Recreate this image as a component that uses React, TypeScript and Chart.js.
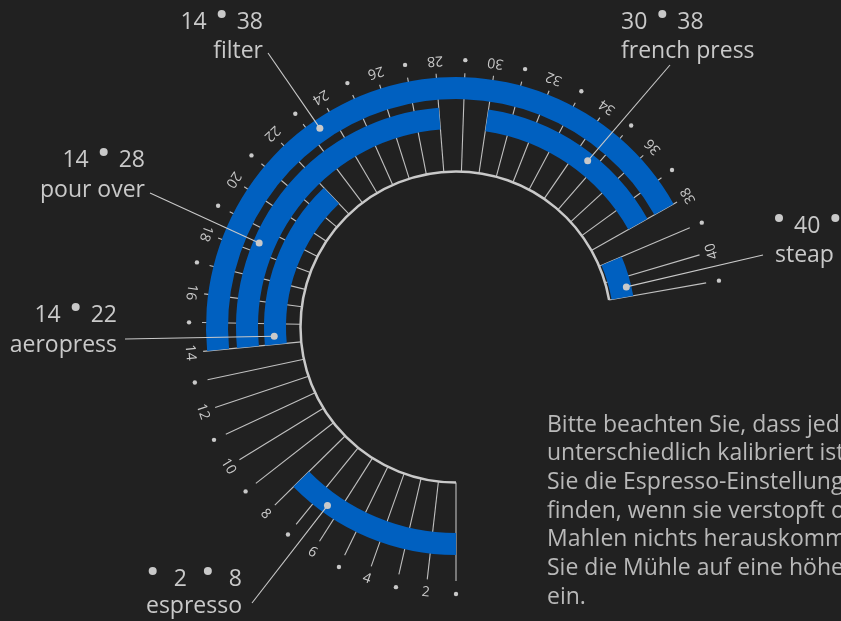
import React, { useEffect, useRef } from 'react';
import { Chart, registerables } from 'chart.js';

Chart.register(...registerables);

// ---------- data ----------
const methods = ['filter', 'pour over', 'french press', 'espresso', 'aeropress', 'steap'];
const rangeStart = [14, 14, 30, 1, 14, 39];
const rangeEnd = [38, 28, 38, 8, 22, 41];
const rangeLabels = ['14 • 38', '14 • 28', '30 • 38', '• 2 • 8', '14 • 22', '• 40 •'];
const tickLines = [1, 2, 3, 4, 5, 6, 7, 8, 9, 10, 11, 12, 13, 14, 15, 16, 17, 18, 19, 20, 21, 22, 23, 24, 25, 26, 27, 28, 29, 30, 31, 32, 33, 34, 35, 36, 37, 38, 39, 40, 41];
const tickLabels = [2, 4, 6, 8, 10, 12, 14, 16, 18, 20, 22, 24, 26, 28, 30, 32, 34, 36, 38, 40];
const tickDots = [1, 3, 5, 7, 9, 11, 13, 15, 17, 19, 21, 23, 25, 27, 29, 31, 33, 35, 37, 39, 41];
const noteLines = [
  'Bitte beachten Sie, dass jede Mühle',
  'unterschiedlich kalibriert ist. Um',
  'Sie die Espresso-Einstellung zu',
  'finden, wenn sie verstopft oder beim',
  'Mahlen nichts herauskommt, stellen',
  'Sie die Mühle auf eine höhere Stufe',
  'ein.',
];

// ---------- layout / style ----------
const W = 841;
const H = 621;
const BG = '#212121';
const BLUE = '#0060c0';
const LIGHT = '#c9c9c9';
const FONT = '"Open Sans", "Noto Sans", sans-serif';
const DEG_PER_UNIT = 6.5;
const AXIS_ORIGIN = 1; // value at the bottom of the dial
const ORIGIN_ANGLE = -180;
const FULL_TURN = 360 / DEG_PER_UNIT;
const INNER_R = 155.5;
const TICK_OUTER_R = 254;
const LABEL_R = 267;
const ringInner = [228, 198, 198, 206, 170, 158];
const ringOuter = [250, 220, 220, 228, 192, 180];

type Ann = { x: number; align: 'left' | 'right'; numY: number; nameY: number; from: [number, number]; at: number; r: number; gap: number };
const annotations: Ann[] = [
  { x: 263, align: 'right', numY: 29, nameY: 58, from: [268, 53], at: 23.4, r: 241, gap: 11 },
  { x: 145, align: 'right', numY: 167, nameY: 197, from: [150, 193], at: 18.4, r: 214, gap: 11 },
  { x: 621, align: 'left', numY: 29, nameY: 58, from: [670, 65], at: 34.6, r: 212, gap: 11 },
  { x: 242, align: 'right', numY: 586, nameY: 613, from: [252, 603], at: 6.5, r: 220, gap: 17 },
  { x: 117, align: 'right', numY: 322, nameY: 352, from: [125, 339], at: 14.4, r: 182, gap: 11 },
  { x: 775, align: 'left', numY: 233, nameY: 262, from: [763, 255], at: 40.5, r: 175, gap: 11 },
];

function angleDeg(v: number) {
  return ORIGIN_ANGLE + (v - AXIS_ORIGIN) * DEG_PER_UNIT;
}
function canvasAngle(v: number) {
  return ((angleDeg(v) - 90) * Math.PI) / 180;
}
function polar(cx: number, cy: number, v: number, r: number): [number, number] {
  const a = canvasAngle(v);
  return [cx + r * Math.cos(a), cy + r * Math.sin(a)];
}

const dialPlugin = {
  id: 'dial',
  beforeDraw(chart: any) {
    const ctx = chart.ctx;
    ctx.save();
    ctx.fillStyle = BG;
    ctx.fillRect(0, 0, chart.width, chart.height);
    ctx.restore();
  },
  beforeDatasetsDraw(chart: any) {
    const ctx = chart.ctx;
    const arc = chart.getDatasetMeta(0).data[0];
    const cx = arc.x;
    const cy = arc.y;
    ctx.save();
    ctx.strokeStyle = 'rgba(210,210,210,0.9)';
    ctx.lineWidth = 1.1;
    tickLines.forEach((v) => {
      const [x1, y1] = polar(cx, cy, v, INNER_R);
      const [x2, y2] = polar(cx, cy, v, TICK_OUTER_R);
      ctx.beginPath();
      ctx.moveTo(x1, y1);
      ctx.lineTo(x2, y2);
      ctx.stroke();
    });
    ctx.strokeStyle = LIGHT;
    ctx.lineWidth = 2.5;
    ctx.beginPath();
    ctx.arc(cx, cy, INNER_R, canvasAngle(tickLines[0]), canvasAngle(tickLines[tickLines.length - 1]), false);
    ctx.stroke();
    ctx.restore();
  },
  afterDatasetsDraw(chart: any) {
    const ctx = chart.ctx;
    const arc = chart.getDatasetMeta(0).data[0];
    const cx = arc.x;
    const cy = arc.y;
    ctx.save();
    // tick labels
    ctx.fillStyle = LIGHT;
    ctx.font = `14px ${FONT}`;
    ctx.textAlign = 'center';
    ctx.textBaseline = 'middle';
    tickLabels.forEach((v) => {
      const [x, y] = polar(cx, cy, v, LABEL_R);
      ctx.save();
      ctx.translate(x, y);
      ctx.rotate(((angleDeg(v) - 180) * Math.PI) / 180);
      ctx.fillText(String(v), 0, 0);
      ctx.restore();
    });
    tickDots.forEach((v) => {
      const [x, y] = polar(cx, cy, v, LABEL_R);
      ctx.beginPath();
      ctx.arc(x, y, 2.2, 0, Math.PI * 2);
      ctx.fill();
    });

    // annotations
    methods.forEach((name, i) => {
      const a = annotations[i];
      const [ax, ay] = polar(cx, cy, a.at, a.r);
      ctx.strokeStyle = LIGHT;
      ctx.lineWidth = 1.1;
      ctx.beginPath();
      ctx.moveTo(a.from[0], a.from[1]);
      ctx.lineTo(ax, ay);
      ctx.stroke();
      ctx.beginPath();
      ctx.arc(ax, ay, 3.5, 0, Math.PI * 2);
      ctx.fill();

      ctx.font = `23px ${FONT}`;
      ctx.textBaseline = 'alphabetic';
      ctx.textAlign = a.align;
      ctx.fillText(name, a.x, a.nameY);

      const tokens = rangeLabels[i].split(' ');
      const dotR = 4;
      const widths = tokens.map((t) => (t === '•' ? dotR * 2 : ctx.measureText(t).width));
      const total = widths.reduce((s, w) => s + w, 0) + a.gap * (tokens.length - 1);
      let x = a.align === 'left' ? a.x : a.x - total;
      ctx.textAlign = 'left';
      tokens.forEach((t, k) => {
        if (t === '•') {
          ctx.beginPath();
          ctx.arc(x + dotR, a.numY - 15, dotR, 0, Math.PI * 2);
          ctx.fill();
        } else {
          ctx.fillText(t, x, a.numY);
        }
        x += widths[k] + a.gap;
      });
    });

    // note
    ctx.fillStyle = '#b9b9b9';
    ctx.font = `23px ${FONT}`;
    ctx.textAlign = 'left';
    ctx.textBaseline = 'alphabetic';
    noteLines.forEach((line, k) => {
      ctx.fillText(line, 547, 431.7 + k * 28.65);
    });
    ctx.restore();
  },
};

export default function App() {
  const ref = useRef<HTMLCanvasElement | null>(null);
  useEffect(() => {
    document.body.style.margin = '0';
    document.body.style.background = BG;
    const n = methods.length;
    const datasets = methods.map((m, i) => {
      const thick = ringOuter[i] - ringInner[i];
      const radius = ringOuter[i] + thick * i;
      const cut = 1 - (thick * n) / radius;
      return {
        label: m,
        data: [rangeStart[i] - AXIS_ORIGIN, rangeEnd[i] - rangeStart[i], FULL_TURN - (rangeEnd[i] - AXIS_ORIGIN)],
        backgroundColor: ['rgba(0,0,0,0)', BLUE, 'rgba(0,0,0,0)'],
        borderWidth: 0,
        radius,
        cutout: `${cut * 100}%`,
        rotation: ORIGIN_ANGLE,
        circumference: 360,
      };
    });
    const chart = new Chart(ref.current as HTMLCanvasElement, {
      type: 'doughnut',
      data: { labels: ['before', 'range', 'after'], datasets: datasets as any },
      options: {
        responsive: false,
        animation: false,
        devicePixelRatio: 1,
        events: [],
        layout: { padding: { left: 71, right: 0, top: 33, bottom: 0 } },
        plugins: { legend: { display: false }, tooltip: { enabled: false } },
      },
      plugins: [dialPlugin],
    });
    return () => chart.destroy();
  }, []);
  return (
    <div style={{ position: 'fixed', left: 0, top: 0, width: W, height: H, background: BG, overflow: 'hidden' }}>
      <canvas ref={ref} width={W} height={H} style={{ width: W, height: H, display: 'block' }} />
    </div>
  );
}
